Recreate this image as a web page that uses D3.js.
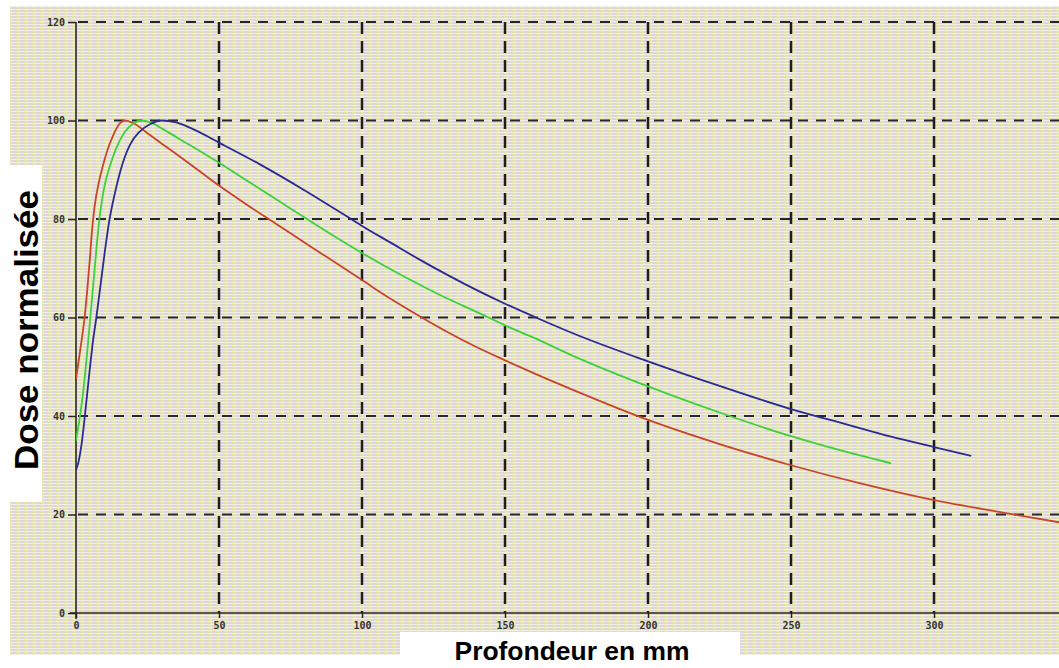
<!DOCTYPE html>
<html>
<head>
<meta charset="utf-8">
<script src="https://cdn.jsdelivr.net/npm/d3@7"></script>
<style>
  body { margin: 0; background: #fff; }
  svg { display: block; }
</style>
</head>
<body>
<div id="visuals"></div>
<script>
/* global d3 */
var width = 1059;
var height = 668;

// tick labels
var xTicks = [0, 50, 100, 150, 200, 250, 300];
var yTicks = [0, 20, 40, 60, 80, 100, 120];

// red curve (depth mm / normalised dose)
var depthRed = [0, 1, 2, 3, 4, 5, 5.5, 6.5, 8, 9.5, 11, 13, 15, 17, 20, 25, 30, 36, 43, 50, 60, 70, 80, 90, 100, 110, 120, 130, 140, 150, 160, 175, 200, 225, 250, 275, 300, 325, 345];
var doseRed = [47.5, 51.5, 55.5, 60, 66, 73, 77, 82.5, 87.5, 91, 94, 97, 99.2, 100, 99.5, 97.4, 95.3, 92.8, 89.8, 86.8, 82.8, 79, 75.2, 71.4, 67.6, 63.8, 60.3, 57, 54, 51.3, 48.7, 45, 39.2, 34.3, 30, 26.2, 22.9, 20.3, 18.3];

// green curve
var depthGreen = [0, 1, 2, 3, 4, 5, 6, 7, 8, 9, 10, 12, 14, 17, 20, 23, 26, 30, 36, 43, 50, 60, 70, 78, 90, 100, 110, 120, 130, 141, 150, 160, 175, 200, 227, 250, 270, 285];
var doseGreen = [35, 38.5, 42.5, 47.5, 53.5, 60, 66.5, 73, 79, 83.5, 86.8, 91, 94.3, 97.6, 99.4, 100, 99.6, 98.4, 96.3, 93.9, 91.4, 87.7, 84, 81, 76.6, 73.1, 69.8, 66.7, 63.8, 60.9, 58.4, 55.9, 51.9, 46, 40.3, 35.9, 32.6, 30.4];

// blue curve
var depthBlue = [0, 1, 2, 3, 4, 5, 6, 7, 8, 9, 10, 11.6, 13.5, 15.4, 17, 19, 22, 26, 30, 35, 40, 50, 64, 80, 94.5, 100, 110, 120, 130, 141, 150, 162, 175, 200, 225, 250, 270, 285, 300, 313];
var doseBlue = [29, 31, 34.5, 39.5, 45, 50.5, 55.5, 59.5, 64, 68.5, 73, 79.5, 85, 89.5, 92.5, 95.2, 97.6, 99.3, 100, 99.6, 98.5, 95.5, 91.2, 85.8, 80.6, 78.6, 75.2, 71.8, 68.6, 65.3, 62.8, 59.7, 56.5, 51.1, 46.1, 41.4, 38.2, 35.8, 33.7, 31.9];

var seriesNames = ["rouge", "vert", "bleu"];
var seriesColors = ["#c8452a", "#3cd23c", "#2a2a92"];

var svg = d3.select("#visuals").append("svg")
    .attr("width", width)
    .attr("height", height);

var defs = svg.append("defs");

// background texture, mottled yellow / lavender
var pat = defs.append("pattern")
    .attr("id", "tex")
    .attr("width", 8)
    .attr("height", 3)
    .attr("patternUnits", "userSpaceOnUse");
pat.append("rect").attr("width", 8).attr("height", 3).attr("fill", "#e3e8a4");
pat.append("rect").attr("x", 4).attr("y", 1).attr("width", 4).attr("height", 2).attr("fill", "#e0d3dc");
pat.append("rect").attr("x", 0).attr("y", 2).attr("width", 2).attr("height", 1).attr("fill", "#dcdcc0");
pat.append("rect").attr("width", 8).attr("height", 1).attr("fill", "#f1f0e2");

defs.append("clipPath").attr("id", "plotclip")
  .append("rect")
    .attr("x", 76).attr("y", 10)
    .attr("width", width - 76).attr("height", 610);

svg.append("rect")
    .attr("x", 10).attr("y", 6)
    .attr("width", width - 10).attr("height", 649)
    .attr("fill", "url(#tex)");

var x = d3.scaleLinear().domain([0, 343.7]).range([76, 1059]);
var y = d3.scaleLinear().domain([0, 120]).range([613, 22]);

// grid
svg.append("g").selectAll("line")
  .data(yTicks.filter(function(d) { return d > 0; }))
  .enter().append("line")
    .attr("x1", x(0) + 2).attr("x2", width)
    .attr("y1", function(d) { return y(d); })
    .attr("y2", function(d) { return y(d); })
    .attr("stroke", "#262630")
    .attr("stroke-width", 2)
    .attr("stroke-dasharray", "10,8");

svg.append("g").selectAll("line")
  .data(xTicks.filter(function(d) { return d > 0; }))
  .enter().append("line")
    .attr("x1", function(d) { return x(d); })
    .attr("x2", function(d) { return x(d); })
    .attr("y1", y(120)).attr("y2", y(0))
    .attr("stroke", "#1e1e1e")
    .attr("stroke-width", 2.5)
    .attr("stroke-dasharray", "12,7");

// axes
var yAxis = d3.axisLeft(y).tickValues(yTicks).tickSize(8).tickPadding(3);
var xAxis = d3.axisBottom(x).tickValues(xTicks).tickSize(5).tickPadding(4);

var gy = svg.append("g").attr("transform", "translate(" + x(0) + ",0)").call(yAxis);
var gx = svg.append("g").attr("transform", "translate(0," + y(0) + ")").call(xAxis);

[gx, gy].forEach(function(g) {
  g.select(".domain").attr("stroke", "#2a2220").attr("stroke-width", 1.6);
  g.selectAll(".tick line").attr("stroke", "#2a2220").attr("stroke-width", 1.5);
  g.selectAll(".tick text")
    .attr("fill", "#333")
    .style("font-family", "'DejaVu Sans Mono', monospace")
    .style("font-weight", "bold")
    .style("font-size", "10px");
});
gx.select(".domain").attr("d", "M70,0H" + width);
gy.select(".domain").attr("d", "M0," + y(120) + "V" + (y(0) + 6));

// curves
var line = d3.line()
    .x(function(d) { return x(d[0]); })
    .y(function(d) { return y(d[1]); })
    .curve(d3.curveMonotoneX);

var curves = [d3.zip(depthRed, doseRed), d3.zip(depthGreen, doseGreen), d3.zip(depthBlue, doseBlue)];

svg.append("g").attr("clip-path", "url(#plotclip)")
  .selectAll("path")
  .data(curves)
  .enter().append("path")
    .attr("class", function(d, i) { return "curve " + seriesNames[i]; })
    .attr("d", line)
    .attr("fill", "none")
    .attr("stroke", function(d, i) { return seriesColors[i]; })
    .attr("stroke-width", 1.8);

// axis titles on white boxes
svg.append("rect")
    .attr("x", 0).attr("y", 165)
    .attr("width", 42).attr("height", 337)
    .attr("fill", "#fff");

svg.append("text")
    .attr("transform", "translate(38,330) rotate(-90)")
    .attr("text-anchor", "middle")
    .attr("textLength", 280)
    .attr("lengthAdjust", "spacingAndGlyphs")
    .style("font-family", "'Liberation Sans', Arial, sans-serif")
    .style("font-weight", "bold")
    .style("font-size", "34px")
    .attr("fill", "#000")
    .text("Dose normalisée");

svg.append("rect")
    .attr("x", 400).attr("y", 632)
    .attr("width", 340).attr("height", 36)
    .attr("fill", "#fff");

svg.append("text")
    .attr("x", 572).attr("y", 660)
    .attr("text-anchor", "middle")
    .attr("textLength", 235)
    .attr("lengthAdjust", "spacingAndGlyphs")
    .style("font-family", "'Liberation Sans', Arial, sans-serif")
    .style("font-weight", "bold")
    .style("font-size", "26px")
    .attr("fill", "#000")
    .text("Profondeur en mm");
</script>
</body>
</html>
